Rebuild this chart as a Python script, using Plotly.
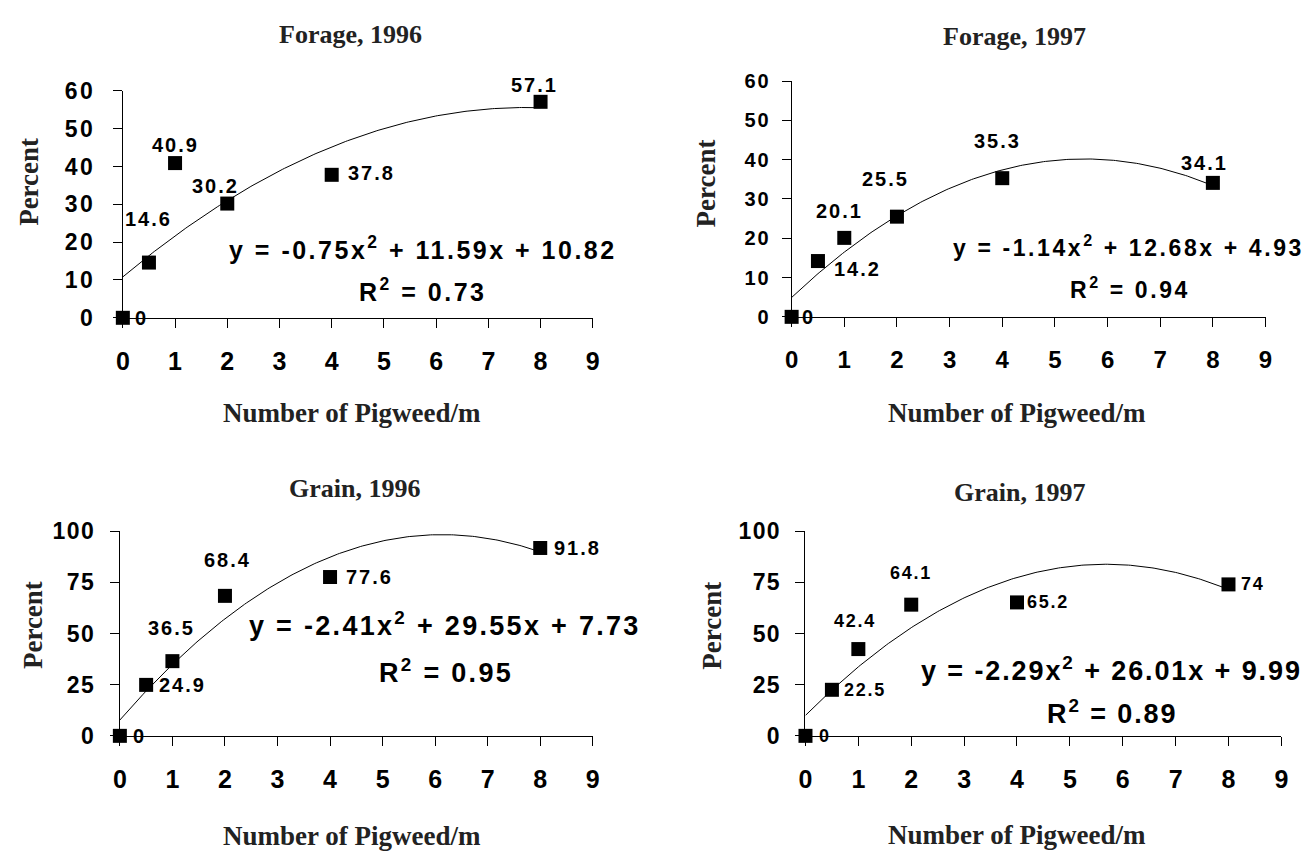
import numpy as np
import plotly.graph_objects as go

W, H = 1313, 865
OFF = 8  # default body margin of the html page

# ---------------- data ----------------
x_vals = [0, 0.5, 1, 2, 4, 8]
forage_1996 = [0, 14.6, 40.9, 30.2, 37.8, 57.1]
forage_1997 = [0, 14.2, 20.1, 25.5, 35.3, 34.1]
grain_1996 = [0, 24.9, 36.5, 68.4, 77.6, 91.8]
grain_1997 = [0, 22.5, 42.4, 64.1, 65.2, 74]

titles = ["Forage, 1996", "Forage, 1997", "Grain, 1996", "Grain, 1997"]
coef_a = [-0.75, -1.14, -2.41, -2.29]
coef_b = [11.59, 12.68, 29.55, 26.01]
coef_c = [10.82, 4.93, 7.73, 9.99]
r_squared = [0.73, 0.94, 0.95, 0.89]

x_ticks = [0, 1, 2, 3, 4, 5, 6, 7, 8, 9]
y_ticks_forage = [0, 10, 20, 30, 40, 50, 60]
y_ticks_grain = [0, 25, 50, 75, 100]
x_title = "Number of Pigweed/m"
y_title = "Percent"

series = [forage_1996, forage_1997, grain_1996, grain_1997]
y_ticks = [y_ticks_forage, y_ticks_forage, y_ticks_grain, y_ticks_grain]

# ---------------- layout (pixel geometry on the page) ----------------
boxes = [  # x0, x1, ybottom, ytop in pixels
    (117, 592, 314, 80),
    (793, 1272, 313, 70),
    (114, 592, 745, 534),
    (807, 1288, 745, 534),
]
title_pos = [(347, 22), (1018, 24), (351, 490), (1023, 494)]
xtitle_pos = [(349, 412), (1021, 412), (349, 848), (1021, 847)]
ytitle_pos = [(22, 174), (706, 176), (26, 631), (713, 631)]
eq_pos = [(420, 242), (1134, 240), (443, 630), (1116, 676)]
r2_pos = [(420, 285), (1135, 283), (444, 678), (1117, 720)]
eq_size = [25, 23, 27, 27]
eq_spacing = [2.5, 2.6, 2.3, 1.9]
ytick_size = [23, 20, 23, 23]
ytick_spacing = [2.5, 2, 1.5, 1.3]
ytick_standoff = [13, 7, 10, 10]
xtick_size = [25, 24, 25, 25]
xtick_standoff = 12
label_size = [20, 20, 20, 18]
label_spacing = [2, 2, 2, 1.75]
# label offsets (dx, dy) in pixels relative to each point, dy positive = down
label_offsets = [
    [(19, 0), (0, -44), (0, -18), (-12, -18), (40, -2), (-6, -17)],
    [(17, 0), (40, 8), (-5, -27), (-11, -38), (-5, -37), (-8, -20)],
    [(20, 0), (36, 0), (-1, -33), (3, -36), (39, 0), (37, 0)],
    [(20, 0), (33, 0), (-3, -28), (0, -32), (31, 0), (25, 0)],
]

SANS = "Liberation Sans, Arial, sans-serif"
SERIF = "Liberation Serif, Times New Roman, serif"


def px(x):
    return (x - OFF) / W


def py(y):
    return 1 - (y - OFF) / H


def spaced(text, sp):
    return f'<span style="letter-spacing:{sp}px">{text}</span>'


fig = go.Figure()
annotations = []

for i in range(4):
    ax = "" if i == 0 else str(i + 1)
    xref, yref = "x" + ax, "y" + ax
    x0, x1, yb, yt = boxes[i]

    # trendline from the printed equation
    xf = np.linspace(0, 8, 200)
    yf = coef_a[i] * xf ** 2 + coef_b[i] * xf + coef_c[i]
    fig.add_trace(go.Scatter(x=xf, y=yf, mode="lines",
                             line=dict(color="black", width=1),
                             xaxis=xref, yaxis=yref, hoverinfo="skip",
                             cliponaxis=False))
    fig.add_trace(go.Scatter(x=x_vals, y=series[i], mode="markers",
                             marker=dict(symbol="square", size=14, color="black"),
                             xaxis=xref, yaxis=yref, cliponaxis=False))

    ymax = y_ticks[i][-1]
    axis_common = dict(showgrid=False, zeroline=False, showline=True,
                       linecolor="black", linewidth=1, ticks="outside",
                       ticklen=9, tickcolor="black", tickwidth=1)
    fig.update_layout(**{
        "xaxis" + ax: dict(domain=[px(x0), px(x1)], range=[0, 9],
                           tickvals=x_ticks, anchor=yref,
                           tickfont=dict(family=SANS, size=xtick_size[i],
                                         color="black", weight="bold"),
                           ticklabelstandoff=xtick_standoff, **axis_common),
        "yaxis" + ax: dict(domain=[py(yb), py(yt)], range=[0, ymax],
                           tickvals=y_ticks[i],
                           ticktext=[spaced(str(t), ytick_spacing[i]) for t in y_ticks[i]],
                           anchor=xref,
                           tickfont=dict(family=SANS, size=ytick_size[i],
                                         color="black", weight="bold"),
                           ticklabelstandoff=ytick_standoff[i], **axis_common),
    })

    # data labels
    for j, (xv, yv) in enumerate(zip(x_vals, series[i])):
        dx, dy = label_offsets[i][j]
        annotations.append(dict(x=xv, y=yv, xref=xref, yref=yref,
                                text=spaced(f"{yv:g}", label_spacing[i]),
                                showarrow=False,
                                xanchor="center", yanchor="middle",
                                xshift=dx, yshift=-dy,
                                font=dict(family=SANS, size=label_size[i],
                                          color="black", weight="bold")))

    # titles
    tx, ty = title_pos[i]
    annotations.append(dict(x=px(tx), y=py(ty), xref="paper", yref="paper",
                            text=titles[i], showarrow=False,
                            xanchor="center", yanchor="middle",
                            font=dict(family=SERIF, size=26, color="#222222",
                                      weight="bold")))
    tx, ty = xtitle_pos[i]
    annotations.append(dict(x=px(tx), y=py(ty), xref="paper", yref="paper",
                            text=x_title, showarrow=False,
                            xanchor="center", yanchor="middle",
                            font=dict(family=SERIF, size=27, color="#222222",
                                      weight="bold")))
    tx, ty = ytitle_pos[i]
    annotations.append(dict(x=px(tx), y=py(ty), xref="paper", yref="paper",
                            text=y_title, showarrow=False, textangle=-90,
                            xanchor="center", yanchor="middle",
                            font=dict(family=SERIF, size=27, color="#222222",
                                      weight="bold")))
    # equation and R²
    a, b, c = coef_a[i], coef_b[i], coef_c[i]
    eq = spaced(f"y = {a:.2f}x<sup>2</sup> + {b:.2f}x + {c:.2f}", eq_spacing[i])
    tx, ty = eq_pos[i]
    annotations.append(dict(x=px(tx), y=py(ty), xref="paper", yref="paper",
                            text=eq, showarrow=False,
                            xanchor="center", yanchor="middle",
                            font=dict(family=SANS, size=eq_size[i],
                                      color="black", weight="bold")))
    tx, ty = r2_pos[i]
    r2 = spaced(f"R<sup>2</sup> = {r_squared[i]:.2f}", eq_spacing[i])
    annotations.append(dict(x=px(tx), y=py(ty), xref="paper", yref="paper",
                            text=r2,
                            showarrow=False, xanchor="center", yanchor="middle",
                            font=dict(family=SANS, size=eq_size[i],
                                      color="black", weight="bold")))

fig.update_layout(width=W, height=H, margin=dict(l=0, r=0, t=0, b=0),
                  paper_bgcolor="white", plot_bgcolor="white",
                  showlegend=False, annotations=annotations)

fig.write_html("out.html")
